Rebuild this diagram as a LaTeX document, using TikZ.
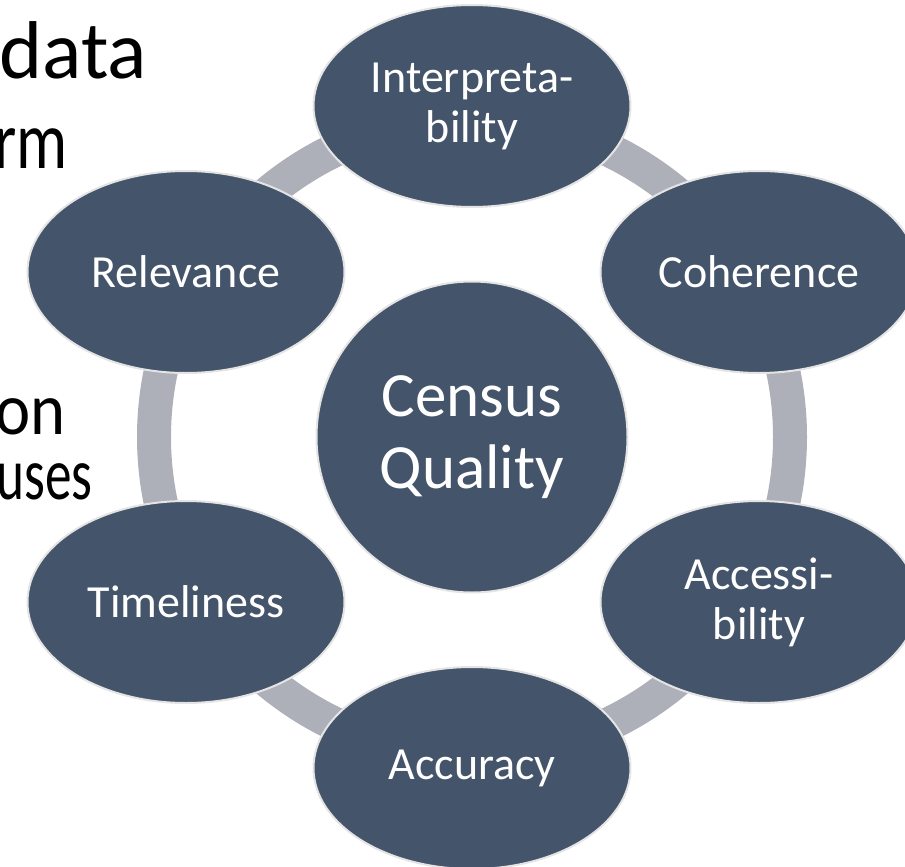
\documentclass[tikz,border=0pt]{standalone}
\usepackage{fontspec}
\setmainfont{Carlito}
\usetikzlibrary{shapes.geometric}
\definecolor{slateblue}{HTML}{44546A}
\definecolor{ringgray}{HTML}{ADB0B8}
\definecolor{edgegray}{HTML}{E4E4E4}
\tikzset{
  aspect/.style={ellipse,fill=slateblue,draw=edgegray,line width=2pt,
    minimum width=317pt,minimum height=202pt,inner sep=0pt,align=center,
    text=white,font=\fontsize{46}{50}\selectfont},
  hub/.style={circle,fill=slateblue,draw=edgegray,line width=2pt,
    minimum size=311pt,inner sep=0pt,align=center,text=white,
    font=\fontsize{63}{72}\selectfont},
  ring/.style={draw=ringgray,line width=34pt},
  slidetext/.style={anchor=base east,inner sep=0pt,
    font=\fontsize{82}{90}\selectfont},
  slidesmall/.style={anchor=base east,inner sep=0pt,
    font=\fontsize{74}{80}\selectfont}
}
\begin{document}
\begin{tikzpicture}[x=1pt,y=-1pt]
\useasboundingbox (0,0) rectangle (905,867);
% cut-off slide text on the left
\node[slidetext] (data) at (147,78) {data};
\node[slidetext] (form) at (68,168) {\addfontfeatures{FakeStretch=0.78}rm};
\node[slidesmall] (on) at (66,434) {\addfontfeatures{FakeStretch=0.9}on};
\node[slidesmall] (uses) at (93,499) {\addfontfeatures{FakeStretch=0.72}uses};
% the ring behind
\coordinate (mid) at (472,437);
\draw[ring] (mid) circle (318);
% the six aspects
\node[aspect] (interp) at (472,106) {Interpreta-\\bility};
\node[aspect] (coher) at (759,272) {Coherence};
\node[aspect] (access) at (759,602) {Accessi-\\bility};
\node[aspect] (accur) at (472,768) {Accuracy};
\node[aspect] (timel) at (186,602) {Timeliness};
\node[aspect] (relev) at (186,272) {Relevance};
% centre
\node[hub] (census) at (mid) {Census\\Quality};
\end{tikzpicture}
\end{document}
